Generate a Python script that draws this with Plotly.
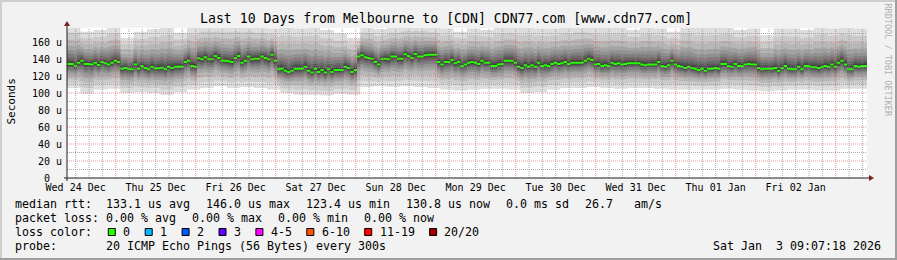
import plotly.graph_objects as go
from datetime import datetime, timedelta

# ---------------- data ----------------
START = datetime(2025, 12, 24, 9, 24)
HOURS = 240
Y_MAX = 176.47

# hourly median RTT (us)
MEDIAN = [
    134.0, 134.0, 132.0, 135.7, 138.0, 134.0, 134.0, 133.4, 135.7, 133.0, 136.5, 135.0,
    133.4, 135.7, 138.0, 136.5, 128.6, 129.4, 127.9, 127.9, 133.4, 128.6, 131.8, 129.4,
    127.9, 131.0, 129.0, 129.0, 129.8, 127.9, 131.0, 129.4, 131.0, 131.0, 131.0, 136.5,
    138.0, 131.8, 131.0, 140.8, 139.6, 142.0, 139.6, 139.6, 143.5, 141.2, 138.0, 138.0,
    137.3, 136.5, 141.2, 143.5, 135.7, 138.0, 142.8, 139.6, 140.4, 140.4, 142.8, 141.2,
    139.6, 145.1, 138.0, 127.9, 128.6, 126.3, 124.7, 126.3, 128.6, 128.6, 128.6, 131.0,
    126.3, 124.0, 128.6, 124.7, 127.1, 124.0, 127.9, 124.7, 127.1, 127.1, 127.1, 131.0,
    129.4, 124.7, 127.1, 142.8, 144.3, 142.0, 141.2, 140.4, 136.5, 133.4, 139.6, 140.4,
    139.6, 142.8, 142.8, 140.4, 140.4, 145.5, 143.5, 141.2, 146.0, 142.8, 142.8, 144.3,
    145.1, 145.1, 145.1, 136.5, 133.4, 136.5, 136.5, 138.8, 134.9, 136.5, 131.8, 133.4,
    135.7, 136.5, 135.7, 134.1, 138.0, 135.7, 135.7, 131.8, 131.8, 133.4, 134.1, 138.0,
    138.0, 138.0, 135.7, 131.0, 129.4, 132.6, 131.0, 132.6, 131.0, 135.7, 131.8, 132.6,
    131.8, 134.1, 135.7, 134.1, 134.9, 136.5, 134.1, 135.7, 135.7, 135.7, 135.7, 138.0,
    140.4, 138.8, 133.4, 134.1, 131.8, 132.6, 131.8, 135.7, 134.1, 134.9, 133.4, 134.1,
    134.9, 134.9, 134.9, 134.9, 133.4, 132.6, 133.4, 133.4, 133.4, 136.5, 131.8, 131.0,
    132.6, 138.0, 133.4, 131.8, 131.0, 129.4, 131.0, 129.4, 128.6, 127.1, 128.6, 126.3,
    128.6, 128.6, 129.4, 128.6, 134.1, 134.1, 131.8, 131.0, 134.1, 131.8, 131.8, 133.4,
    134.1, 133.4, 133.4, 129.4, 127.9, 128.6, 128.6, 128.6, 129.4, 126.3, 129.4, 131.8,
    128.6, 127.9, 127.9, 131.0, 127.9, 131.8, 131.8, 130.2, 130.2, 129.4, 130.2, 131.8,
    131.0, 133.4, 131.0, 135.7, 138.0, 133.4, 127.9, 127.9, 131.8, 131.0, 131.8, 131.8,
]

# 4-hourly extremes of the 20 pings (us)
SMOKE_HI = [
    180, 172, 174, 178, 165, 172, 175, 178, 171, 178, 180, 180,
    180, 180, 178, 176, 178, 176, 178, 174, 170, 165, 178, 175,
    178, 180, 180, 178, 176, 172, 176, 174, 178, 178, 178, 176,
    176, 178, 180, 178, 178, 178, 174, 178, 176, 172, 180, 178,
    178, 178, 174, 176, 168, 176, 176, 174, 178, 176, 178, 176,
]
SMOKE_LO = [
    106, 99, 104, 105, 100, 101, 100, 98, 101, 104, 106, 108,
    106, 107, 106, 104, 100, 98, 98, 97, 99, 98, 107, 108,
    107, 108, 107, 106, 104, 103, 104, 105, 105, 104, 100, 101,
    104, 106, 106, 107, 106, 105, 106, 106, 105, 104, 104, 104,
    104, 105, 104, 103, 102, 103, 104, 104, 103, 103, 105, 105,
]
# relative position of sorted pings (outer pair -> inner pair)
PING_FRACTIONS = [1.0, 0.80, 0.62, 0.47, 0.36, 0.27, 0.19, 0.12, 0.07, 0.03]
SMOKE_GREYS = ["#dddddd", "#cacaca", "#b7b7b7", "#a4a4a4", "#919191",
               "#7e7e7e", "#6b6b6b", "#585858", "#454545", "#323232"]

DAY_DATES = ["2025-12-24", "2025-12-25", "2025-12-26", "2025-12-27", "2025-12-28",
             "2025-12-29", "2025-12-30", "2025-12-31", "2026-01-01", "2026-01-02"]
DAY_LABELS = ["Wed 24 Dec", "Thu 25 Dec", "Fri 26 Dec", "Sat 27 Dec", "Sun 28 Dec",
              "Mon 29 Dec", "Tue 30 Dec", "Wed 31 Dec", "Thu 01 Jan", "Fri 02 Jan"]
Y_TICKS = [0, 20, 40, 60, 80, 100, 120, 140, 160]
Y_TICK_LABELS = ["0\u00a0\u00a0", "20 u", "40 u", "60 u", "80 u", "100 u", "120 u", "140 u", "160 u"]

TITLE = "Last 10 Days from Melbourne to [CDN] CDN77.com [www.cdn77.com]"
RTT_STATS = ["133.1 us avg", "146.0 us max", "123.4 us min", "130.8 us now", "0.0 ms sd", "26.7   am/s"]
LOSS_STATS = ["0.00 % avg", "0.00 % max", "0.00 % min", "0.00 % now"]
LOSS_LABELS = ["0", "1", "2", "3", "4-5", "6-10", "11-19", "20/20"]
LOSS_COLORS = ["#26ff00", "#00b8ff", "#0059ff", "#5e00ff", "#ff00ff", "#ff5500", "#ff0000", "#a10000"]
PROBE = "20 ICMP Echo Pings (56 Bytes) every 300s"
STAMP = "Sat Jan  3 09:07:18 2026"
WATERMARK = "RRDTOOL / TOBI OETIKER"

# ---------------- layout constants ----------------
W, H = 897, 260
L, R, T, B = 67, 30, 28, 82
PW, PH = W - L - R, H - T - B
MONO = "DejaVu Sans Mono"
BG = "#f2f2f2"
GRID = "rgba(143,143,143,0.75)"
MGRID = "rgba(222,79,79,0.6)"
AXIS = "#1f1f1f"
ARROW = "#801f1f"


def px(x):
    return (x - L) / PW


def py(y):
    return (T + PH - y) / PH


def nb(s):
    return s.replace(" ", "\u00a0")


END = START + timedelta(hours=HOURS)
x_edges = [START + timedelta(hours=i) for i in range(HOURS + 1)]
hi_h = [SMOKE_HI[i // 4] for i in range(HOURS)]
lo_h = [SMOKE_LO[i // 4] for i in range(HOURS)]


def step(vals):
    return list(vals) + [vals[-1]]


fig = go.Figure()

# smoke
for frac, grey in zip(PING_FRACTIONS, SMOKE_GREYS):
    lower = [m - frac * (m - lo) for m, lo in zip(MEDIAN, lo_h)]
    upper = [m + frac * (hi - m) for m, hi in zip(MEDIAN, hi_h)]
    fig.add_trace(go.Scatter(x=x_edges, y=step(lower), mode="lines",
                             line=dict(width=0, shape="hv"), hoverinfo="skip", showlegend=False))
    fig.add_trace(go.Scatter(x=x_edges, y=step(upper), mode="lines",
                             line=dict(width=0, shape="hv"), fill="tonexty", fillcolor=grey,
                             hoverinfo="skip", showlegend=False))

# median (2 px tall segments, loss colour 0)
half = Y_MAX / PH
fig.add_trace(go.Scatter(x=x_edges, y=step([m - half for m in MEDIAN]), mode="lines",
                         line=dict(width=0, shape="hv"), hoverinfo="skip", showlegend=False))
fig.add_trace(go.Scatter(x=x_edges, y=step([m + half for m in MEDIAN]), mode="lines",
                         line=dict(width=0, shape="hv"), fill="tonexty", fillcolor=LOSS_COLORS[0],
                         hoverinfo="skip", showlegend=False))

# grid (drawn over the data, like rrdtool)
hx_min, hy_min, hx_maj, hy_maj = [], [], [], []
for v in range(10, int(Y_MAX) + 1, 10):
    if v % 20:
        hx_min += [START, END, None]; hy_min += [v, v, None]
    else:
        hx_maj += [START, END, None]; hy_maj += [v, v, None]
vx_min, vy_min, vx_maj, vy_maj = [], [], [], []
t = datetime(2025, 12, 24, 12, 0)
while t < END:
    if t.hour == 0:
        vx_maj += [t, t, None]; vy_maj += [0, Y_MAX, None]
    else:
        vx_min += [t, t, None]; vy_min += [0, Y_MAX, None]
    t += timedelta(hours=4)
for xs, ys, col in [(hx_min, hy_min, GRID), (vx_min, vy_min, GRID),
                    (hx_maj, hy_maj, MGRID), (vx_maj, vy_maj, MGRID)]:
    fig.add_trace(go.Scatter(x=xs, y=ys, mode="lines", line=dict(color=col, width=1, dash="1px,1px"),
                             hoverinfo="skip", showlegend=False))

shapes = []
# 3D border
shapes += [
    dict(type="rect", xref="paper", yref="paper", x0=px(0), x1=px(W), y0=py(0), y1=py(2),
         fillcolor="#cfcfcf", line=dict(width=0), layer="above"),
    dict(type="rect", xref="paper", yref="paper", x0=px(0), x1=px(2), y0=py(0), y1=py(H),
         fillcolor="#cfcfcf", line=dict(width=0), layer="above"),
    dict(type="rect", xref="paper", yref="paper", x0=px(0), x1=px(W), y0=py(H - 2), y1=py(H),
         fillcolor="#9e9e9e", line=dict(width=0), layer="above"),
    dict(type="rect", xref="paper", yref="paper", x0=px(W - 2), x1=px(W), y0=py(0), y1=py(H),
         fillcolor="#9e9e9e", line=dict(width=0), layer="above"),
]
# axes + arrows
shapes += [
    dict(type="line", xref="paper", yref="paper", x0=px(64), x1=px(870), y0=py(178), y1=py(178),
         line=dict(color=AXIS, width=1)),
    dict(type="line", xref="paper", yref="paper", x0=px(67), x1=px(67), y0=py(181), y1=py(25),
         line=dict(color=AXIS, width=1)),
    dict(type="path", xref="paper", yref="paper",
         path=f"M {px(869)},{py(175)} L {px(874)},{py(178)} L {px(869)},{py(181)} Z",
         fillcolor=ARROW, line=dict(color=ARROW, width=0)),
    dict(type="path", xref="paper", yref="paper",
         path=f"M {px(64)},{py(26)} L {px(67)},{py(21)} L {px(70)},{py(26)} Z",
         fillcolor=ARROW, line=dict(color=ARROW, width=0)),
]

ann = []


def text(x, y, s, size=11.63, anchor="left", color="black", angle=0):
    ann.append(dict(x=px(x), y=py(y), xref="paper", yref="paper", text=nb(s), showarrow=False,
                    xanchor=anchor, yanchor="middle", borderpad=0, borderwidth=0, textangle=angle,
                    font=dict(family=MONO, size=size, color=color)))


text(446, 19, TITLE, size=13.2, anchor="center")
text(887.5, 60, WATERMARK, size=8.5, anchor="center", color="#b0b0b0", angle=90)
text(10.5, 102, "Seconds", size=11, anchor="center", angle=-90)

CH, GAP = 7.0, 16.0
ROWS = [204, 218, 232, 246]
text(15.3, ROWS[0], "median rtt:")
x = 106.3
for s in RTT_STATS:
    text(x, ROWS[0], s)
    x += len(s) * CH + GAP
text(15.3, ROWS[1], "packet loss:")
x = 106.3
for s in LOSS_STATS:
    text(x, ROWS[1], s)
    x += len(s) * CH + GAP
text(15.3, ROWS[2], "loss color:")
bx = 108.3
for lab, col in zip(LOSS_LABELS, LOSS_COLORS):
    shapes.append(dict(type="rect", xref="paper", yref="paper", x0=px(bx), x1=px(bx + 7),
                       y0=py(228.5), y1=py(235.5), fillcolor=col, line=dict(color="black", width=1)))
    text(bx + 14.8, ROWS[2], lab)
    bx += 29.9 + len(lab) * CH
text(15.3, ROWS[3], "probe:")
text(106.3, ROWS[3], PROBE)
text(881, ROWS[3], STAMP, anchor="right")

fig.update_layout(
    width=W, height=H, autosize=False,
    margin=dict(l=L, r=R, t=T, b=B, pad=0),
    paper_bgcolor=BG, plot_bgcolor="#ffffff",
    showlegend=False, shapes=shapes, annotations=ann,
    xaxis=dict(type="date", range=[START, END], tickmode="array",
               tickvals=[d + " 12:00" for d in DAY_DATES], ticktext=DAY_LABELS,
               showgrid=False, zeroline=False, showline=False, ticks="",
               ticklabelstandoff=2,
               tickfont=dict(family=MONO, size=10, color="black"), fixedrange=True),
    yaxis=dict(range=[0, Y_MAX], tickmode="array", tickvals=Y_TICKS, ticktext=Y_TICK_LABELS,
               showgrid=False, zeroline=False, showline=False, ticks="",
               ticklabelstandoff=4,
               tickfont=dict(family=MONO, size=10, color="black"), fixedrange=True),
)

fig.write_html("out.html", config={"displayModeBar": False})
